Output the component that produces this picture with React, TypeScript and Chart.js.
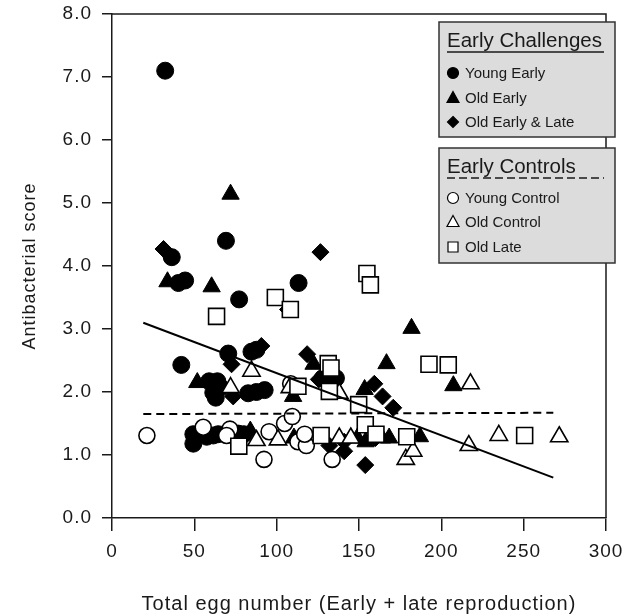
import React, { useEffect, useRef } from 'react';
import { Chart, registerables } from 'chart.js';

Chart.register(...registerables);

// ---- data (x = total egg number, y = antibacterial score) ----
const youngEarly: number[][] = [
  [32.3, 7.1], [69.2, 4.4], [36.3, 4.14], [40.3, 3.73], [44.4, 3.77], [77.2, 3.47], [113.3, 3.73],
  [42.1, 2.43], [70.6, 2.61], [84.7, 2.64], [87.7, 2.67], [59, 2.17], [64, 2.17], [66, 2.07],
  [61.5, 1.99], [63, 1.91], [82.7, 1.98], [87.7, 2.0], [92.7, 2.03], [128, 2.22], [136, 2.22],
  [49.4, 1.33], [49.4, 1.18], [57.5, 1.29], [61.5, 1.31], [64.5, 1.33], [76.6, 1.34], [80, 1.33],
];
const oldEarly: number[][] = [
  [72, 5.14], [33.7, 3.75], [60.5, 3.67], [181.9, 3.01], [51.8, 2.15], [166.7, 2.45], [207.3, 2.1],
  [122.4, 2.44], [110, 1.93], [153.4, 2.04], [84, 1.38], [110.5, 1.27], [149, 1.27], [154, 1.21],
  [164, 1.27], [168.3, 1.27], [187, 1.29],
];
const oldEarlyLate: number[][] = [
  [31.3, 4.27], [126.6, 4.22], [106.9, 3.31], [90.7, 2.73], [72.6, 2.44], [118.5, 2.6], [125.6, 2.2],
  [73.6, 1.93], [159.3, 2.13], [164.3, 1.93], [170.8, 1.75], [132, 1.15], [141, 1.06], [141, 1.21],
  [153.8, 0.84], [160, 1.27],
];
const youngControl: number[][] = [
  [21.2, 1.31], [55.4, 1.44], [71.6, 1.41], [69.6, 1.31], [92.3, 0.93], [95.4, 1.37], [104.8, 1.5],
  [109.5, 1.61], [108.5, 2.13], [112.9, 1.21], [118, 1.15], [117, 1.33], [133.7, 0.93],
];
const oldControl: number[][] = [
  [72, 2.07], [84.7, 2.33], [108, 2.07], [138, 1.98], [217.7, 2.13], [87.7, 1.23], [100.8, 1.24],
  [138, 1.27], [145, 1.27], [178.4, 0.93], [182.9, 1.06], [216.7, 1.15], [234.9, 1.31], [271.6, 1.29],
];
const oldLate: number[][] = [
  [154.8, 3.88], [156.9, 3.7], [99.2, 3.5], [108.3, 3.31], [63.5, 3.2], [192.5, 2.44], [204.2, 2.43],
  [131.3, 2.45], [133, 2.38], [112.9, 2.09], [132, 2.01], [149.8, 1.8], [153.8, 1.48], [77, 1.14],
  [127, 1.31], [160.3, 1.33], [179, 1.29], [250.6, 1.31],
];
const challengeTrend: number[][] = [[19, 3.1], [268, 0.64]];
const controlTrend: number[][] = [[19, 1.65], [268, 1.67]];

const xTickValues = [0, 50, 100, 150, 200, 250, 300];
const yTickValues = [0, 1, 2, 3, 4, 5, 6, 7, 8];

const challengeTitle = 'Early Challenges';
const challengeLabels = ['Young Early', 'Old Early', 'Old Early & Late'];
const controlTitle = 'Early Controls';
const controlLabels = ['Young Control', 'Old Control', 'Old Late'];

const xTitle = 'Total egg number (Early + late reproduction)';
const yTitle = 'Antibacterial score';

// ---- styling ----
const FONT = "'Liberation Sans', Arial, Helvetica, sans-serif";
const INK = '#1a1a1a';
const LEGEND_FILL = '#dcdcdc';

const toPts = (a: number[][]) => a.map(([x, y]) => ({ x, y }));

function marker(ctx: CanvasRenderingContext2D, shape: string, x: number, y: number, filled: boolean) {
  ctx.beginPath();
  if (shape === 'circle') {
    ctx.arc(x, y, 5.5, 0, Math.PI * 2);
  } else if (shape === 'triangle') {
    ctx.moveTo(x, y - 6.5);
    ctx.lineTo(x + 6, y + 4.5);
    ctx.lineTo(x - 6, y + 4.5);
    ctx.closePath();
  } else if (shape === 'diamond') {
    ctx.moveTo(x, y - 5.5);
    ctx.lineTo(x + 5.5, y);
    ctx.lineTo(x, y + 5.5);
    ctx.lineTo(x - 5.5, y);
    ctx.closePath();
  } else {
    ctx.rect(x - 5, y - 5, 10, 10);
  }
  ctx.fillStyle = filled ? '#000' : '#fff';
  ctx.fill();
  ctx.lineWidth = 1.2;
  ctx.strokeStyle = '#000';
  ctx.stroke();
}

function legendBox(
  ctx: CanvasRenderingContext2D,
  top: number,
  bottom: number,
  title: string,
  dashed: boolean,
  labels: string[],
  shapes: string[],
  filled: boolean,
  rows: number[],
) {
  const left = 439;
  const right = 615;
  ctx.save();
  ctx.fillStyle = LEGEND_FILL;
  ctx.fillRect(left, top, right - left, bottom - top);
  ctx.lineWidth = 1.5;
  ctx.strokeStyle = '#333';
  ctx.strokeRect(left, top, right - left, bottom - top);

  ctx.fillStyle = INK;
  ctx.font = `20.5px ${FONT}`;
  ctx.textBaseline = 'alphabetic';
  ctx.textAlign = 'left';
  ctx.fillText(title, 447, top + 25);

  ctx.beginPath();
  ctx.lineWidth = 1.6;
  ctx.strokeStyle = INK;
  if (dashed) ctx.setLineDash([8, 4]);
  ctx.moveTo(447, top + 30);
  ctx.lineTo(604, top + 30);
  ctx.stroke();
  ctx.setLineDash([]);

  ctx.font = `15px ${FONT}`;
  labels.forEach((lab, i) => {
    const cy = rows[i];
    marker(ctx, shapes[i], 453, cy, filled);
    ctx.fillStyle = INK;
    ctx.fillText(lab, 465, cy + 5.3);
  });
  ctx.restore();
}

const framePlugin = {
  id: 'frameAndLegend',
  beforeDraw(chart: any) {
    (chart.ctx as any).letterSpacing = '1px';
  },
  afterDraw(chart: any) {
    const ctx: CanvasRenderingContext2D = chart.ctx;
    const a = chart.chartArea;
    ctx.save();
    (ctx as any).letterSpacing = '0px';
    ctx.strokeStyle = INK;
    ctx.lineWidth = 1.5;
    ctx.beginPath();
    ctx.moveTo(a.left, a.top);
    ctx.lineTo(a.right, a.top);
    ctx.lineTo(a.right, a.bottom);
    ctx.stroke();

    legendBox(ctx, 22, 137, challengeTitle, false, challengeLabels,
      ['circle', 'triangle', 'diamond'], true, [73, 98, 122]);
    legendBox(ctx, 148, 263, controlTitle, true, controlLabels,
      ['circle', 'triangle', 'rect'], false, [198, 222, 247]);
    ctx.restore();
  },
};

export default function App() {
  const ref = useRef<HTMLCanvasElement | null>(null);

  useEffect(() => {
    document.body.style.margin = '0';
    const canvas = ref.current;
    if (!canvas) return;

    const filled = (data: number[][], style: string, r: number, order: number) => ({
      data: toPts(data),
      pointStyle: style,
      pointRadius: r,
      pointBackgroundColor: '#000',
      pointBorderColor: '#000',
      pointBorderWidth: 1,
      showLine: false,
      order,
    });
    const open = (data: number[][], style: string, r: number, order: number) => ({
      data: toPts(data),
      pointStyle: style,
      pointRadius: r,
      pointBackgroundColor: '#fff',
      pointBorderColor: '#000',
      pointBorderWidth: 1.6,
      showLine: false,
      order,
    });

    const chart = new Chart(canvas, {
      type: 'scatter',
      data: {
        datasets: [
          {
            label: 'Challenges trend',
            data: toPts(challengeTrend),
            showLine: true,
            pointRadius: 0,
            borderColor: '#000',
            borderWidth: 2,
            order: 0,
          } as any,
          {
            label: 'Controls trend',
            data: toPts(controlTrend),
            showLine: true,
            pointRadius: 0,
            borderColor: '#000',
            borderWidth: 2,
            borderDash: [8, 5],
            order: 0,
          } as any,
          { label: challengeLabels[0], ...filled(youngEarly, 'circle', 8.5, 6) } as any,
          { label: challengeLabels[1], ...filled(oldEarly, 'triangle', 10, 5) } as any,
          { label: challengeLabels[2], ...filled(oldEarlyLate, 'rectRot', 8.5, 4) } as any,
          { label: controlLabels[0], ...open(youngControl, 'circle', 8, 3) } as any,
          { label: controlLabels[1], ...open(oldControl, 'triangle', 10, 2) } as any,
          { label: controlLabels[2], ...open(oldLate, 'rect', 11.3, 1) } as any,
        ],
      },
      options: {
        animation: false,
        responsive: false,
        devicePixelRatio: 1,
        events: [],
        layout: { padding: { top: 14, right: 18, left: 0, bottom: 0 } },
        plugins: {
          legend: { display: false },
          tooltip: { enabled: false },
        },
        scales: {
          x: {
            type: 'linear',
            min: 0,
            max: 300,
            afterBuildTicks: (scale: any) => {
              scale.ticks = xTickValues.map((v) => ({ value: v }));
            },
            afterFit: (scale: any) => {
              scale.height = 98;
              scale.paddingLeft = 0;
              scale.paddingRight = 0;
            },
            ticks: {
              color: INK,
              font: { family: FONT, size: 19 },
              padding: 9,
              maxRotation: 0,
              autoSkip: false,
              callback: (v: any) => String(v),
            },
            grid: {
              drawOnChartArea: false,
              drawTicks: true,
              tickLength: 13,
              color: INK,
              lineWidth: 1.5,
            },
            border: { display: true, color: INK, width: 1.5 },
            title: {
              display: true,
              text: xTitle,
              color: INK,
              font: { family: FONT, size: 20 },
              padding: { top: 0, bottom: 0 },
            },
          },
          y: {
            type: 'linear',
            min: 0,
            max: 8,
            afterBuildTicks: (scale: any) => {
              scale.ticks = yTickValues.map((v) => ({ value: v }));
            },
            afterFit: (scale: any) => {
              scale.width = 112;
              scale.paddingTop = 0;
              scale.paddingBottom = 0;
            },
            ticks: {
              color: INK,
              font: { family: FONT, size: 19 },
              padding: 10,
              autoSkip: false,
              callback: (v: any) => Number(v).toFixed(1),
            },
            grid: {
              drawOnChartArea: false,
              drawTicks: true,
              tickLength: 10,
              color: INK,
              lineWidth: 1.5,
            },
            border: { display: true, color: INK, width: 1.5 },
            title: {
              display: true,
              text: yTitle,
              color: INK,
              font: { family: FONT, size: 18 },
              padding: { top: 19, bottom: 0 },
            },
          },
        },
      } as any,
      plugins: [framePlugin as any],
    });

    return () => chart.destroy();
  }, []);

  return (
    <div style={{ width: 624, height: 616, overflow: 'hidden', background: '#fff' }}>
      <canvas ref={ref} width={624} height={616} style={{ display: 'block', width: 624, height: 616 }} />
    </div>
  );
}
